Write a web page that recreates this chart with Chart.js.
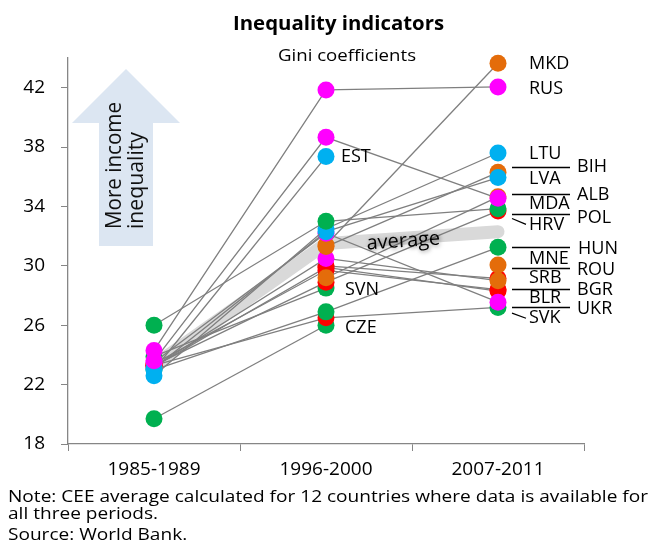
<!DOCTYPE html>
<html>
<head>
<meta charset="utf-8">
<script src="https://cdn.jsdelivr.net/npm/chart.js@4.4.0/dist/chart.umd.min.js"></script>
<style>
  html, body { margin: 0; padding: 0; background: #ffffff; }
  #wrap { position: relative; width: 650px; height: 545px; }
</style>
</head>
<body>
<div id="wrap"><canvas id="chart" width="650" height="545"></canvas></div>
<script>
// ---- data ----
const periods = ['1985-1989', '1996-2000', '2007-2011'];
const yTicks = [18, 22, 26, 30, 34, 38, 42];

const countries = ['RUS', 'MDA', 'EST', 'HRV', 'LTU', 'LVA', 'UKR', 'MKD', 'BIH', 'ALB',
                   'POL', 'HUN', 'MNE', 'ROU', 'SRB', 'BGR', 'BLR', 'SVK', 'SVN', 'CZE'];
const gini8589 = [24.3, 23.6, 23.0, 26.0, 22.6, 23.1, 23.5, null, null, null,
                  23.3, 23.0, null, 23.2, null, 23.4, 23.2, 23.3, 23.9, 19.7];
const gini9600 = [41.85, 38.66, 37.36, 33.0, 32.5, 32.3, 32.2, 31.4, 31.3, 29.2,
                  28.9, 26.9, null, 30.5, 30.0, 29.7, 29.9, 26.5, 28.5, 26.0];
const gini0711 = [42.05, 34.55, null, 33.85, 37.6, 35.95, 27.55, 43.65, 36.3, 34.65,
                  33.7, 31.25, 30.05, 29.0, 29.15, 28.4, 28.3, 27.2, null, null];
const averageGini = [23.3, 31.5, 32.3];

// marker colour per country and period (M magenta, O orange, G green, B blue, R red)
const markerCodes = ['MMM', 'MMM', 'BB-', 'GGG', 'BBB', 'BBB', 'MMM', '-OO', '-OO', '-OO',
                     'RRR', 'GGG', '--O', 'MMO', '-RR', 'RRR', 'RRR', 'RRG', 'GG-', 'GG-'];
const palette = { M: '#ff00ff', O: '#e46c0a', G: '#00b050', B: '#00b0f0', R: '#ff0000', '-': '#ffffff' };

// labels next to the dots: [text, period index, x offset, value]
const dotLabels = [
  ['EST', 1, 15, 37.36], ['SVN', 1, 19, 28.35], ['CZE', 1, 19, 25.8],
  ['MKD', 2, 31, 43.61], ['RUS', 2, 31, 41.93],
  ['LTU', 2, 31, 37.56], ['LVA', 2, 31, 35.88], ['MDA', 2, 31, 34.2], ['HRV', 2, 31, 32.79],
  ['MNE', 2, 31, 30.5], ['SRB', 2, 31, 29.16], ['BLR', 2, 31, 27.82], ['SVK', 2, 31, 26.47],
  ['BIH', 2, 79, 36.69], ['ALB', 2, 79, 34.81], ['POL', 2, 79, 33.26], ['HUN', 2, 80, 31.11],
  ['ROU', 2, 79, 29.76], ['BGR', 2, 79, 28.35], ['UKR', 2, 79, 27.08]
];
const leaderLines = [36.69, 34.84, 33.51, 31.26, 29.83, 28.42, 27.21];
const leaderTicks = [[33.19, 32.79], [26.81, 26.47]];

// ---- helpers ----
const FONT = '"Open Sans", sans-serif';

function fitText(ctx, text, x, y, width) {
  const w = ctx.measureText(text).width;
  ctx.save();
  ctx.translate(x, y);
  ctx.scale(width / w, 1);
  ctx.textAlign = 'left';
  ctx.fillText(text, 0, 0);
  ctx.restore();
  return width / w;
}

const extras = {
  id: 'extras',
  beforeDatasetsDraw(chart) {
    const ctx = chart.ctx;
    // block arrow
    ctx.save();
    ctx.fillStyle = '#dce6f2';
    ctx.beginPath();
    ctx.moveTo(126, 69);
    ctx.lineTo(180, 123);
    ctx.lineTo(153, 123);
    ctx.lineTo(153, 246);
    ctx.lineTo(99, 246);
    ctx.lineTo(99, 123);
    ctx.lineTo(72, 123);
    ctx.closePath();
    ctx.fill();
    ctx.translate(126, 166);
    ctx.rotate(-Math.PI / 2);
    ctx.fillStyle = '#111';
    ctx.font = '22px ' + FONT;
    ctx.textBaseline = 'middle';
    fitText(ctx, 'More income', -63, -11, 127);
    fitText(ctx, 'inequality', -63, 11, 97);
    ctx.restore();
  },
  afterDraw(chart) {
    const ctx = chart.ctx;
    const xs = chart.scales.x, ys = chart.scales.y;
    ctx.save();
    ctx.fillStyle = '#000';
    ctx.textBaseline = 'middle';

    // title + subtitle
    ctx.font = 'bold 20px ' + FONT;
    fitText(ctx, 'Inequality indicators', 233, 24, 211);
    ctx.font = '17px ' + FONT;
    fitText(ctx, 'Gini coefficients', 278, 56, 138);

    // "average" label along the band
    const x1 = xs.getPixelForValue(1), y1 = ys.getPixelForValue(averageGini[1]);
    const x2 = xs.getPixelForValue(2), y2 = ys.getPixelForValue(averageGini[2]);
    const t = 0.45;
    ctx.save();
    ctx.translate(x1 + (x2 - x1) * t, y1 + (y2 - y1) * t + 3);
    ctx.rotate(Math.atan2(y2 - y1, x2 - x1));
    ctx.font = '20px ' + FONT;
    ctx.textAlign = 'center';
    ctx.shadowColor = 'rgba(0,0,0,0.55)';
    ctx.shadowBlur = 4;
    ctx.shadowOffsetX = 1;
    ctx.shadowOffsetY = 1;
    ctx.fillText('average', 0, 0);
    ctx.restore();

    // country labels
    ctx.font = '18px ' + FONT;
    ctx.textAlign = 'left';
    dotLabels.forEach(([txt, p, dx, v]) => {
      ctx.fillText(txt, xs.getPixelForValue(p) + dx, ys.getPixelForValue(v));
    });

    // leader lines
    const xr = xs.getPixelForValue(2);
    ctx.strokeStyle = '#000';
    ctx.lineWidth = 1.3;
    ctx.beginPath();
    leaderLines.forEach(v => {
      const y = Math.round(ys.getPixelForValue(v)) + 0.5;
      ctx.moveTo(xr + 14, y);
      ctx.lineTo(xr + 72, y);
    });
    leaderTicks.forEach(([a, b]) => {
      ctx.moveTo(xr + 14, ys.getPixelForValue(a));
      ctx.lineTo(xr + 28, ys.getPixelForValue(b));
    });
    ctx.stroke();

    // note and source
    ctx.font = '17px ' + FONT;
    const s = fitText(ctx, 'Note: CEE average calculated for 12 countries where data is available for', 8, 497, 640);
    ctx.save();
    ctx.translate(8, 0);
    ctx.scale(s, 1);
    ctx.fillText('all three periods.', 0, 514);
    ctx.fillText('Source: World Bank.', 0, 535);
    ctx.restore();
    ctx.restore();
  }
};

const countryDatasets = countries.map((c, i) => ({
  label: c,
  data: [gini8589[i], gini9600[i], gini0711[i]],
  borderColor: '#7f7f7f',
  borderWidth: 1.3,
  pointRadius: 8.5,
  pointHoverRadius: 8.5,
  pointBorderWidth: 0,
  pointBackgroundColor: markerCodes[i].split('').map(k => palette[k]),
  clip: false,
  order: i
}));

const avgDataset = {
  label: 'average',
  data: averageGini,
  borderColor: '#d9d9d9',
  borderWidth: 13,
  borderCapStyle: 'round',
  pointRadius: 0,
  clip: false,
  order: 999
};

const ctx = document.getElementById('chart').getContext('2d');

const chart = new Chart(ctx, {
  type: 'line',
  data: {
    labels: periods,
    datasets: [...countryDatasets, avgDataset]
  },
  options: {
    responsive: false,
    animation: false,
    layout: {
      padding: { top: 58, right: 66, bottom: 0, left: 0 }
    },
    plugins: {
      legend: { display: false },
      tooltip: { enabled: false },
      title: { display: false }
    },
    scales: {
      x: {
        type: 'category',
        offset: true,
        grid: {
          drawOnChartArea: false,
          drawTicks: true,
          tickLength: 7,
          color: '#868686',
          offset: true
        },
        border: { color: '#868686', width: 1.3 },
        ticks: {
          color: '#000',
          font: { family: FONT, size: 19 },
          padding: 7,
          maxRotation: 0
        },
        afterFit: s => { s.height = 101; }
      },
      y: {
        min: 18,
        max: 44,
        afterBuildTicks: s => { s.ticks = yTicks.map(v => ({ value: v })); },
        grid: {
          drawOnChartArea: false,
          drawTicks: true,
          tickLength: 7,
          color: '#868686'
        },
        border: { color: '#868686', width: 1.3 },
        ticks: {
          color: '#000',
          font: { family: FONT, size: 19 },
          padding: 16
        },
        afterFit: s => { s.width = 68; }
      }
    }
  },
  plugins: [extras]
});
</script>
</body>
</html>
